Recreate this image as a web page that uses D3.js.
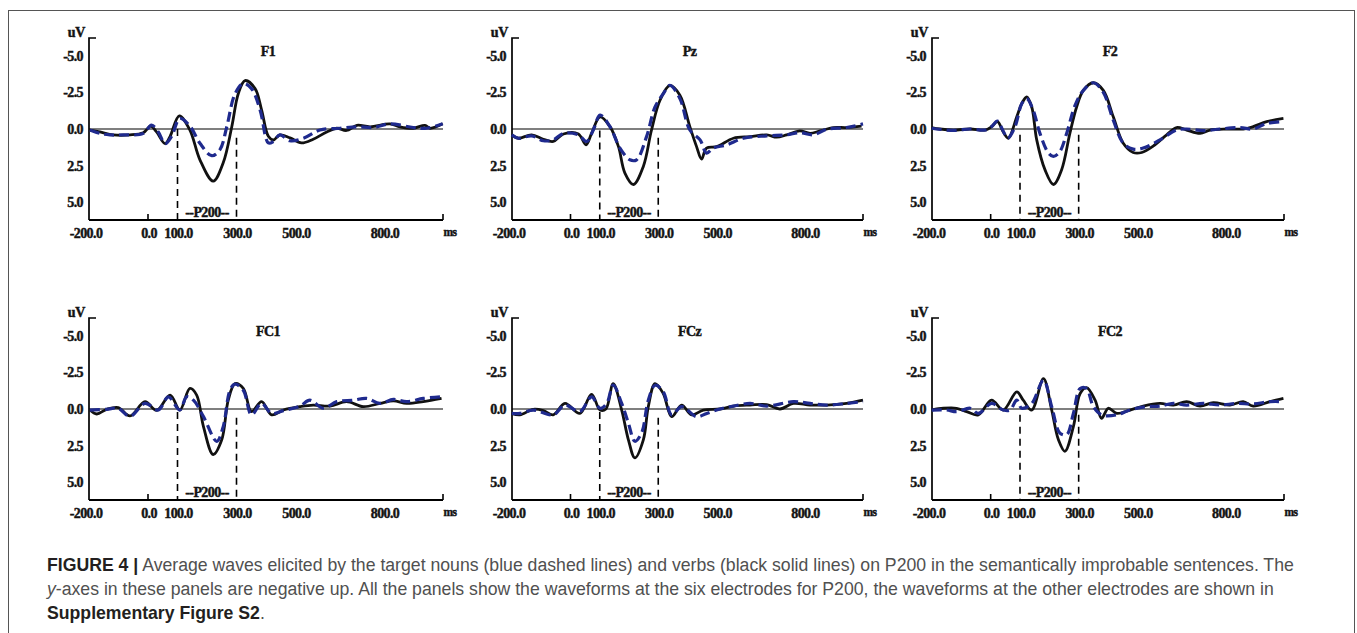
<!DOCTYPE html>
<html>
<head>
<meta charset="utf-8">
<script src="https://cdn.jsdelivr.net/npm/d3@7"></script>
<style>
  html, body { margin: 0; padding: 0; background: #fff; }
  svg { display: block; }
</style>
</head>
<body>
<svg id="chart" width="1357" height="633"></svg>
<script>
// ---------- DATA (ms, µV; negative is up) ----------
const electrodes = ["F1", "Pz", "F2", "FC1", "FCz", "FC2"];
const yTickValues = [-5.0, -2.5, 0.0, 2.5, 5.0];
const xTickValues = [-200, 0, 100, 300, 500, 800];
const xMarkTicks = [0, 1000];
const p200Window = [100, 300];
// start (µV) of the dashed window lines per electrode: [at 100 ms, at 300 ms]
const windowLineTops = [[0.0, 0.6], [0.1, 0.6], [0.4, 0.4], [0.2, 0.6], [0.2, 0.6], [0.4, 0.4]];

const f1Verbs = [[-197,0.07],[-163,0.2],[-118,0.4],[-61,0.4],[-16,0.25],[9,-0.2],[29,0.2],[58,1.0],[75,0.5],[106,-0.9],[142,0.07],[176,2.1],[221,3.55],[255,2.3],[284,-0.15],[306,-2.4],[329,-3.3],[363,-2.75],[385,-1.3],[408,0.5],[425,0.75],[447,0.4],[481,0.6],[520,0.95],[560,0.7],[606,0.2],[640,-0.05],[673,0.1],[708,-0.25],[753,-0.15],[820,-0.35],[854,-0.15],[899,-0.05],[939,-0.25],[956,-0.05],[999,-0.35]];
const f1Nouns = [[-197,0.07],[-163,0.3],[-129,0.4],[-84,0.4],[-16,0.3],[12,-0.27],[35,0.2],[58,1.0],[80,0.5],[108,-0.72],[142,-0.2],[176,0.97],[216,1.82],[244,1.4],[267,-0.15],[295,-2.4],[323,-3.1],[351,-2.75],[380,-1.3],[408,0.95],[425,0.85],[447,0.4],[481,0.8],[527,0.63],[583,0.07],[651,-0.05],[708,-0.15],[764,-0.1],[820,-0.35],[899,-0.1],[944,-0.05],[999,-0.35]];

const pzVerbs = [[-201,0.4],[-178,0.63],[-133,0.4],[-93,0.7],[-59,0.85],[-24,0.34],[27,0.34],[53,1.08],[72,0.3],[101,-0.83],[135,-0.16],[164,1.2],[186,3.0],[215,3.78],[249,2.55],[277,0.07],[306,-1.96],[340,-2.97],[374,-2.3],[408,-0.16],[431,1.2],[448,2.05],[465,1.3],[500,1.2],[557,0.63],[614,0.52],[671,0.4],[705,0.56],[739,0.4],[784,0.13],[819,0.3],[853,0.13],[899,-0.1],[944,-0.1],[995,-0.2]];
const pzNouns = [[-201,0.4],[-178,0.63],[-133,0.47],[-93,0.8],[-59,0.74],[-24,0.3],[27,0.4],[55,0.85],[78,0.07],[101,-0.95],[135,-0.16],[169,1.3],[203,2.1],[226,2.1],[260,0.52],[289,-1.5],[317,-2.4],[340,-2.97],[374,-2.07],[408,0.07],[443,0.74],[465,1.64],[488,1.3],[534,1.08],[591,0.63],[671,0.47],[739,0.4],[784,0.25],[830,0.4],[876,0.02],[944,-0.1],[1000,-0.35]];

const f2Verbs = [[-201,-0.1],[-173,0],[-127,0.07],[-70,0],[-19,0.07],[3,-0.16],[23,-0.5],[43,0.2],[60,0.63],[89,-0.83],[106,-1.73],[123,-2.18],[140,-1.5],[157,0.74],[185,2.77],[214,3.78],[242,2.77],[270,0.3],[293,-1.5],[316,-2.63],[350,-3.15],[384,-2.63],[418,-0.83],[452,0.97],[486,1.6],[515,1.6],[555,1.15],[600,0.4],[634,-0.1],[668,0.07],[714,0.3],[748,0.07],[805,0],[861,0],[895,-0.16],[941,-0.5],[998,-0.72]];
const f2Nouns = [[-201,-0.05],[-127,0.1],[-70,0],[-19,0.07],[3,-0.16],[23,-0.54],[41,0.07],[58,0.63],[83,-0.16],[106,-1.73],[123,-2.07],[145,-1.28],[168,0.3],[197,1.64],[214,1.87],[236,1.53],[259,0.3],[288,-1.62],[316,-2.63],[350,-3.15],[384,-2.5],[418,-0.6],[452,0.97],[486,1.37],[520,1.3],[577,0.74],[634,0.07],[668,0],[725,0.11],[782,0],[850,-0.1],[895,0],[941,-0.38],[998,-0.5]];

const fc1Verbs = [[-197,0.07],[-174,0.34],[-140,0.02],[-101,-0.1],[-61,0.47],[-10,-0.5],[29,0.1],[75,-0.95],[108,0.07],[142,-1.4],[165,-0.95],[188,1.2],[221,3.1],[250,2.1],[272,-0.6],[295,-1.73],[323,-1.4],[351,0.18],[385,-0.5],[419,0.4],[459,0.07],[515,-0.16],[560,-0.27],[617,-0.2],[673,-0.5],[730,-0.16],[786,-0.38],[832,-0.56],[877,-0.38],[933,-0.5],[995,-0.72]];
const fc1Nouns = [[-197,0.07],[-140,0.02],[-101,-0.05],[-61,0.5],[-10,-0.38],[35,0.07],[69,-0.83],[108,0.07],[131,-0.83],[154,-0.6],[188,0.52],[233,2.2],[255,1.2],[278,-1.28],[295,-1.69],[323,-1.28],[351,0.4],[385,-0.38],[419,0.3],[459,0.11],[515,-0.2],[549,-0.6],[594,-0.05],[640,-0.5],[696,-0.6],[741,-0.72],[786,-0.38],[832,-0.65],[877,-0.5],[933,-0.72],[995,-0.83]];

const fczVerbs = [[-201,0.3],[-173,0.4],[-127,0.02],[-93,0.11],[-59,0.4],[-19,-0.38],[32,0.3],[72,-1.0],[101,0.07],[121,0],[146,-1.73],[175,0.07],[198,2.1],[220,3.33],[249,2.1],[266,-0.16],[289,-1.73],[317,-1.06],[346,0.52],[380,-0.27],[414,0.4],[454,0.07],[511,0],[557,-0.2],[614,-0.27],[671,-0.3],[716,0],[762,-0.38],[819,-0.27],[876,-0.27],[944,-0.38],[1000,-0.6]];
const fczNouns = [[-201,0.3],[-173,0.3],[-127,0.07],[-59,0.4],[-19,-0.27],[32,0.18],[72,-0.83],[101,-0.05],[124,-0.38],[146,-1.62],[175,-0.38],[198,0.97],[220,2.2],[243,1.64],[266,-0.6],[289,-1.62],[317,-1.17],[346,0.4],[380,-0.16],[431,0.52],[466,0.3],[511,0],[557,-0.2],[614,-0.38],[671,-0.2],[762,-0.5],[819,-0.38],[876,-0.27],[944,-0.38],[1000,-0.5]];

const fc2Verbs = [[-201,0.07],[-161,-0.05],[-116,-0.05],[-82,0.18],[-42,0.4],[3,-0.6],[43,0.07],[89,-1.17],[111,-0.6],[140,0.07],[180,-2.07],[208,0.07],[231,2.1],[253,2.88],[282,1.2],[305,-1.06],[327,-1.46],[356,-0.6],[378,0.63],[401,-0.05],[430,0.3],[475,0.07],[520,-0.2],[577,-0.38],[623,-0.27],[668,-0.5],[714,-0.2],[759,-0.43],[816,-0.27],[861,-0.5],[895,-0.2],[952,-0.5],[998,-0.72]];
const fc2Nouns = [[-201,0.07],[-150,0.07],[-116,0.18],[-70,-0.05],[-42,0.3],[3,-0.38],[43,0.07],[66,0.07],[89,-0.6],[106,-0.05],[140,-0.38],[180,-1.96],[208,-0.16],[236,1.64],[259,1.75],[282,0.3],[305,-1.4],[327,-1.4],[350,-0.16],[378,0.4],[430,0.4],[475,0.07],[532,-0.16],[577,-0.2],[623,-0.38],[668,-0.27],[725,-0.38],[782,-0.27],[839,-0.38],[895,-0.34],[952,-0.5],[998,-0.5]];

const verbsSeries = [f1Verbs, pzVerbs, f2Verbs, fc1Verbs, fczVerbs, fc2Verbs];
const nounsSeries = [f1Nouns, pzNouns, f2Nouns, fc1Nouns, fczNouns, fc2Nouns];

const captionLine1Bold = "FIGURE 4 |";
const captionLine1 = " Average waves elicited by the target nouns (blue dashed lines) and verbs (black solid lines) on P200 in the semantically improbable sentences. The";
const captionLine2Italic = "y";
const captionLine2 = "-axes in these panels are negative up. All the panels show the waveforms at the six electrodes for P200, the waveforms at the other electrodes are shown in";
const captionLine3Bold = "Supplementary Figure S2";
const captionLine3 = ".";

// ---------- LAYOUT ----------
const svg = d3.select("#chart");
const colX = [[89, 443], [512, 863], [932, 1284]];
const rowY = [[38, 220], [318, 500]];
const xDomain = [-200, 1000];
const yDomain = [-6.2, 6.2];
const serif = "'Liberation Serif', 'DejaVu Serif', serif";
const blue = "#1f2a8e";
const ink = "#141414";

svg.append("rect").attr("x", 8.5).attr("y", 10.5).attr("width", 1346).attr("height", 640)
  .attr("fill", "none").attr("stroke", "#555").attr("stroke-width", 1);

function label(g, x, y, txt, anchor, size, ls) {
  return g.append("text").attr("x", x).attr("y", y)
    .attr("text-anchor", anchor).attr("font-family", serif).attr("font-weight", "bold")
    .attr("font-size", size).attr("letter-spacing", ls).attr("fill", ink)
    .attr("stroke", ink).attr("stroke-width", 0.45).text(txt);
}

electrodes.forEach((name, i) => {
  const [x0, x1] = colX[i % 3];
  const [y0, y1] = rowY[Math.floor(i / 3)];
  const x = d3.scaleLinear().domain(xDomain).range([x0, x1]);
  const y = d3.scaleLinear().domain(yDomain).range([y0, y1]);
  const g = svg.append("g");

  // zero line
  g.append("line").attr("x1", x0).attr("x2", x1).attr("y1", y(0)).attr("y2", y(0))
    .attr("stroke", "#000").attr("stroke-width", 1.2);

  // window dashed lines
  p200Window.forEach((t, k) => {
    g.append("line").attr("x1", x(t)).attr("x2", x(t))
      .attr("y1", y(windowLineTops[i][k])).attr("y2", y1)
      .attr("stroke", "#000").attr("stroke-width", 1.6).attr("stroke-dasharray", "7,5");
  });

  // y axis with top cap
  g.append("path")
    .attr("d", `M${x0 + 7},${y0}H${x0}V${y1}`)
    .attr("fill", "none").attr("stroke", "#000").attr("stroke-width", 1.7);
  // x axis
  g.append("line").attr("x1", x0).attr("x2", x1).attr("y1", y1).attr("y2", y1)
    .attr("stroke", "#000").attr("stroke-width", 1.9);
  xMarkTicks.forEach(t => {
    g.append("line").attr("x1", x(t)).attr("x2", x(t)).attr("y1", y1).attr("y2", y1 - 6)
      .attr("stroke", "#000").attr("stroke-width", 1.6);
  });

  // y tick labels
  yTickValues.forEach(v => {
    label(g, x0 - 6, y(v), v.toFixed(1), "end", 14, -0.6).attr("dy", "0.35em");
  });
  label(g, x0 - 4, y0 - 1, "uV", "end", 14, -0.3);

  // x tick labels
  xTickValues.forEach(t => {
    label(g, x(t) + (t === -200 ? -3 : 1), y1 + 18, t.toFixed(1), "middle", 14, -0.6);
  });
  label(g, x1 + 7, y1 + 16, "ms", "middle", 11.5, -0.6);

  // electrode title
  label(g, (x0 + x1) / 2 + 2, y0 + 18, name, "middle", 14, -0.6);

  // P200 label
  label(g, (x(p200Window[0]) + x(p200Window[1])) / 2, y1 - 3, "--P200--", "middle", 14, -0.6);

  // waveforms
  const line = d3.line().x(d => x(d[0])).y(d => y(d[1])).curve(d3.curveCatmullRom.alpha(0.5));
  g.append("path").datum(verbsSeries[i]).attr("d", line)
    .attr("fill", "none").attr("stroke", "#111").attr("stroke-width", 2.8)
    .attr("stroke-linejoin", "round");
  g.append("path").datum(nounsSeries[i]).attr("d", line)
    .attr("fill", "none").attr("stroke", blue).attr("stroke-width", 3.2)
    .attr("stroke-dasharray", "10,5");
});

// ---------- CAPTION ----------
const capFont = "'Liberation Sans', Arial, Helvetica, sans-serif";
const cap = svg.append("g").attr("font-family", capFont);
const capX = 47;
const capBase = [571, 595, 619];
const t1 = cap.append("text").attr("x", capX).attr("y", capBase[0]).attr("font-size", 16.5);
t1.append("tspan").attr("font-weight", "bold").attr("fill", "#231f20").text(captionLine1Bold);
t1.append("tspan").attr("fill", "#505050").text(captionLine1);
const t2 = cap.append("text").attr("x", capX).attr("y", capBase[1]).attr("font-size", 16.5);
t2.append("tspan").attr("font-style", "italic").attr("fill", "#505050").text(captionLine2Italic);
t2.append("tspan").attr("fill", "#505050").text(captionLine2);
const t3 = cap.append("text").attr("x", capX).attr("y", capBase[2]).attr("font-size", 16.5);
t3.append("tspan").attr("font-weight", "bold").attr("fill", "#231f20").text(captionLine3Bold);
t3.append("tspan").attr("fill", "#505050").text(captionLine3);

// fit line 1 width to the reference (~1248px)
const w1 = t1.node().getComputedTextLength();
const fs = Math.max(13, Math.min(19, 16.5 * 1248 / w1));
[t1, t2, t3].forEach(t => t.attr("font-size", fs));
</script>
</body>
</html>
